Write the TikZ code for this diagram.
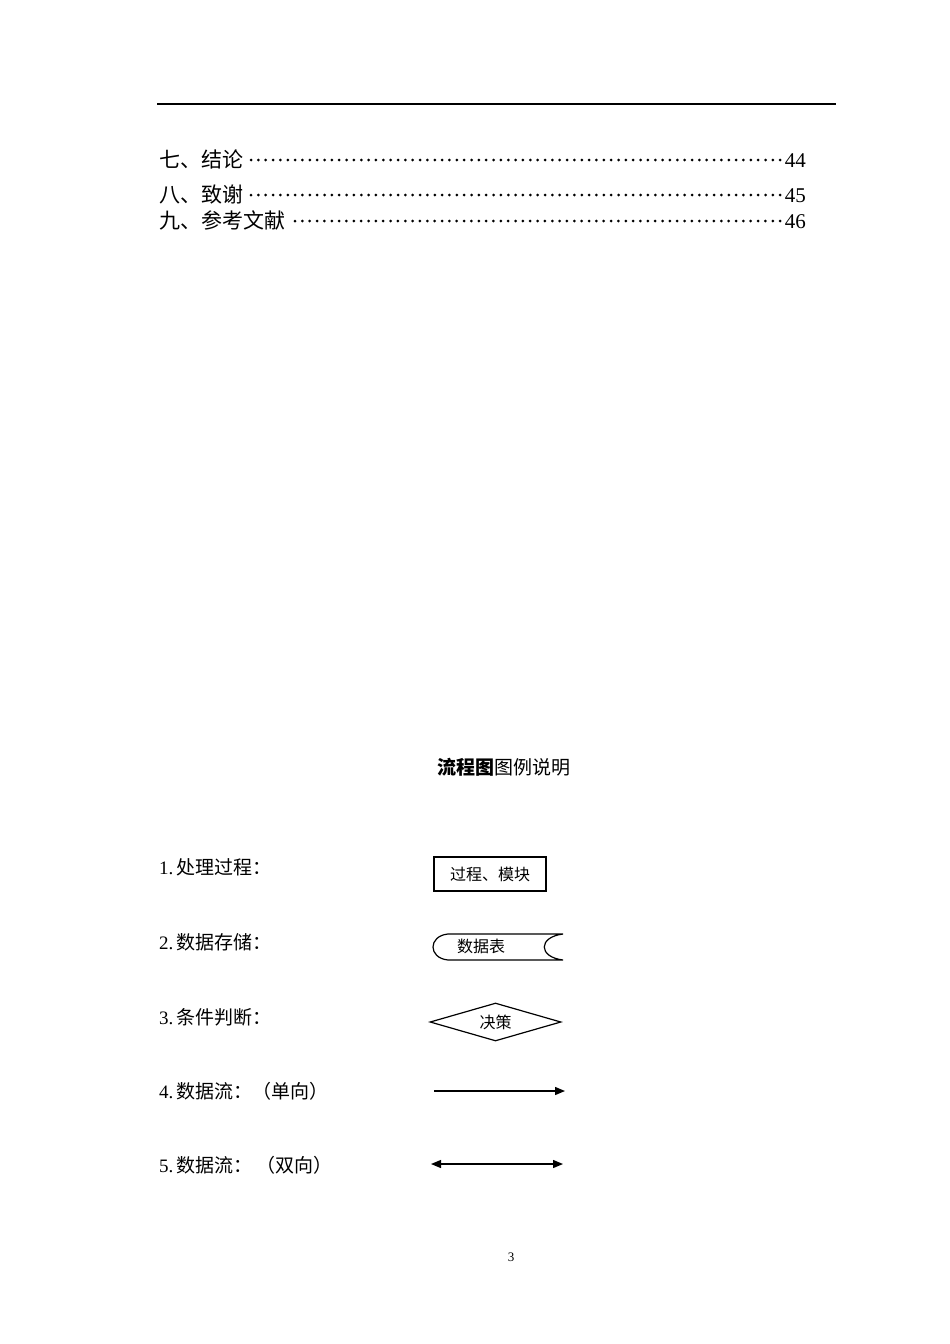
\documentclass[tikz,border=0pt]{standalone}
\usepackage{fontspec}
\setmainfont{Liberation Serif}
\newfontfamily\cjk{Noto Sans CJK SC}
\usetikzlibrary{shapes.geometric, arrows.meta}

\begin{document}
\begin{tikzpicture}[x=1pt, y=-1pt, >={Triangle[length=10pt,width=8pt]}]
\tikzset{
  toc/.style = {anchor=base west, inner sep=0pt, font=\fontsize{21}{21}\selectfont},
  page/.style = {anchor=base east, inner sep=0pt, font=\fontsize{21}{21}\selectfont},
  leader/.style = {draw, line width=3pt, line cap=round, dash pattern=on 0pt off 7.35pt},
  item/.style = {anchor=base west, inner sep=0pt, font=\fontsize{19}{19}\selectfont},
  process/.style = {rectangle, draw, line width=1.2pt, minimum width=112pt, minimum height=34pt, inner sep=0pt, font=\cjk\fontsize{16}{16}\selectfont},
  decision/.style = {diamond, draw, line width=1.2pt, aspect=3.45, minimum width=131pt, minimum height=38pt, inner sep=0pt, font=\cjk\fontsize{16}{16}\selectfont},
  line/.style = {draw, line width=1.3pt}
}
\useasboundingbox[fill=white] (0,0) rectangle (950,1344);
% header rule
\coordinate (rule_l) at (157,104);
\coordinate (rule_r) at (836,104);
\draw[line width=1.5pt] (rule_l) -- (rule_r);

% table of contents
\node [toc] (toc7) at (159,167) {\cjk 七、结论};
\node [page] (pg7) at (806,167) {44};
\node [toc] (toc8) at (159,202) {\cjk 八、致谢};
\node [page] (pg8) at (806,202) {45};
\node [toc] (toc9) at (159,228) {\cjk 九、参考文献};
\node [page] (pg9) at (806,228) {46};
\coordinate (d7a) at (251,160); \coordinate (d7b) at (783,160);
\coordinate (d8a) at (251,195); \coordinate (d8b) at (783,195);
\coordinate (d9a) at (295,221); \coordinate (d9b) at (783,221);
\path [leader] (d7a) -- (d7b);
\path [leader] (d8a) -- (d8b);
\path [leader] (d9a) -- (d9b);

% legend
\node [inner sep=0pt, font=\cjk\fontsize{19}{19}\selectfont] (title) at (504,767) {{\bfseries 流程图}图例说明};

\node [item] (i1) at (159,874) {1.\kern3pt{\cjk 处理过程：}};
\node [item] (i2) at (159,949) {2.\kern3pt{\cjk 数据存储：}};
\node [item] (i3) at (159,1024) {3.\kern3pt{\cjk 条件判断：}};
\node [item] (i4) at (159,1098) {4.\kern3pt{\cjk 数据流：（单向）}};
\node [item] (i5) at (159,1172) {5.\kern3pt{\cjk 数据流： （双向）}};

\node [process] (module) at (490,874) {过程、模块};

\node [inner sep=0pt, font=\cjk\fontsize{16}{16}\selectfont] (store) at (481,946) {数据表};
\draw [line width=1.2pt] (448,934) -- (563,934)
  .. controls (538,937) and (538,957) .. (563,960) -- (448,960)
  .. controls (428,958) and (428,936) .. (448,934);

\node [decision] (choice) at (495.5,1022) {决策};

\coordinate (one_a) at (434,1091);
\coordinate (one_b) at (565,1091);
\path [line, ->] (one_a) -- (one_b);
\coordinate (two_a) at (431,1164);
\coordinate (two_b) at (563,1164);
\path [line, <->] (two_a) -- (two_b);

\node [inner sep=0pt, font=\fontsize{13}{13}\selectfont] (pgnum) at (511,1257) {3};
\end{tikzpicture}
\end{document}
